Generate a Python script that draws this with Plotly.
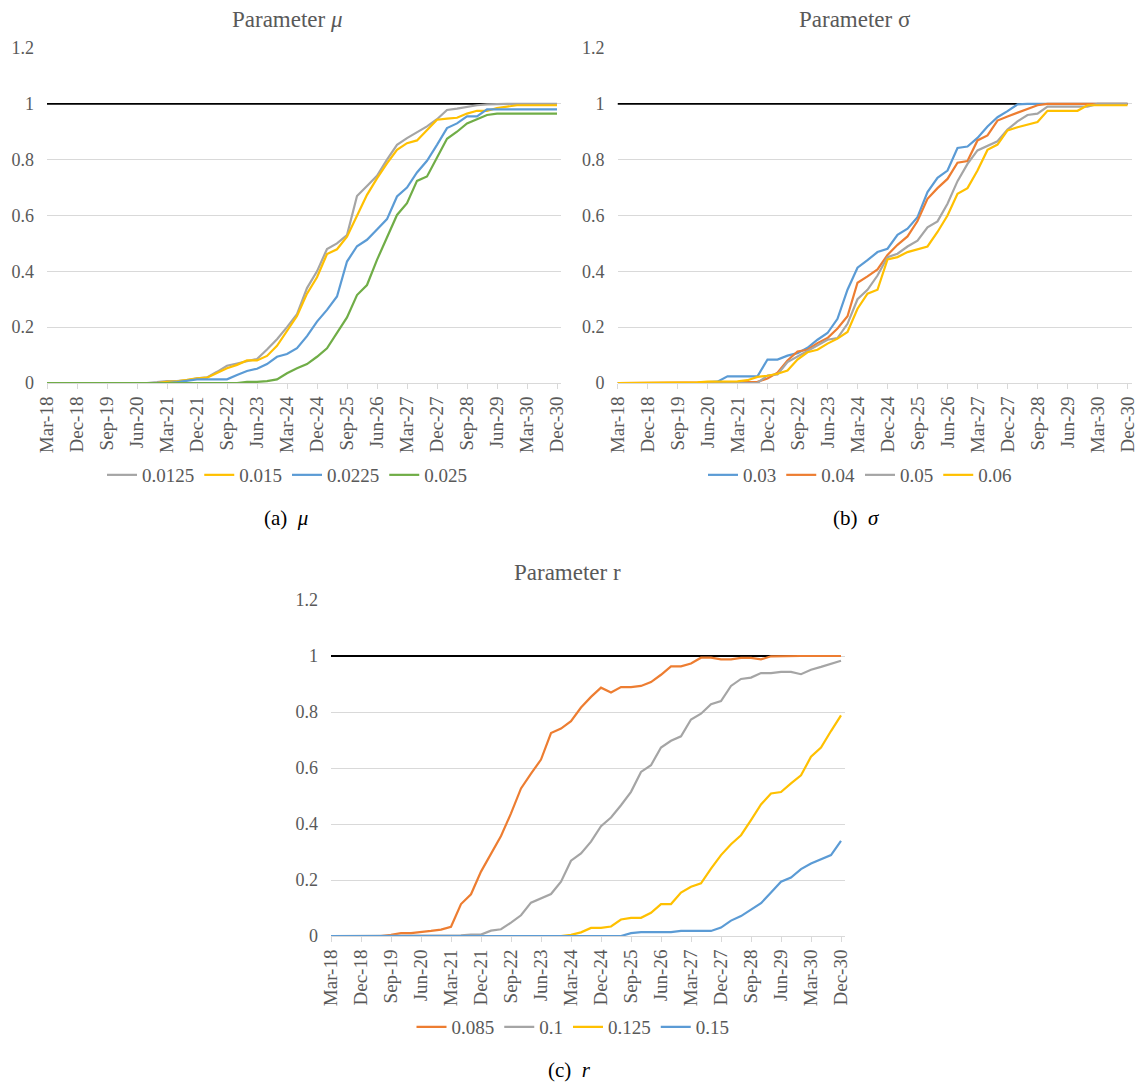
import plotly.graph_objects as go

# ---------------- data ----------------
QUARTERS = [
    "Mar-18", "Jun-18", "Sep-18", "Dec-18",
    "Mar-19", "Jun-19", "Sep-19", "Dec-19",
    "Mar-20", "Jun-20", "Sep-20", "Dec-20",
    "Mar-21", "Jun-21", "Sep-21", "Dec-21",
    "Mar-22", "Jun-22", "Sep-22", "Dec-22",
    "Mar-23", "Jun-23", "Sep-23", "Dec-23",
    "Mar-24", "Jun-24", "Sep-24", "Dec-24",
    "Mar-25", "Jun-25", "Sep-25", "Dec-25",
    "Mar-26", "Jun-26", "Sep-26", "Dec-26",
    "Mar-27", "Jun-27", "Sep-27", "Dec-27",
    "Mar-28", "Jun-28", "Sep-28", "Dec-28",
    "Mar-29", "Jun-29", "Sep-29", "Dec-29",
    "Mar-30", "Jun-30", "Sep-30", "Dec-30",
]
TICK_LABELS = [
    "Mar-18", "Dec-18", "Sep-19", "Jun-20", "Mar-21", "Dec-21",
    "Sep-22", "Jun-23", "Mar-24", "Dec-24", "Sep-25", "Jun-26",
    "Mar-27", "Dec-27", "Sep-28", "Jun-29", "Mar-30", "Dec-30",
]
Y_TICKS = [0, 0.2, 0.4, 0.6, 0.8, 1, 1.2]
TARGET_LEVEL = 1.0

# Panel (a): parameter mu
MU_LABELS = ["0.0125", "0.015", "0.0225", "0.025"]
MU_0125 = [0, 0, 0, 0, 0, 0, 0, 0, 0, 0, 0, 0.003, 0.007, 0.007, 0.01, 0.017,
           0.02, 0.04, 0.062, 0.07, 0.079, 0.086, 0.12, 0.157, 0.2, 0.247, 0.34,
           0.4, 0.48, 0.5, 0.53, 0.67, 0.706, 0.742, 0.8, 0.853, 0.877, 0.897,
           0.919, 0.945, 0.978, 0.983, 0.99, 0.995, 0.998, 1, 1, 1, 1, 1, 1, 1]
MU_015 = [0, 0, 0, 0, 0, 0, 0, 0, 0, 0, 0, 0, 0.004, 0.006, 0.011, 0.017,
          0.019, 0.035, 0.053, 0.065, 0.081, 0.081, 0.097, 0.133, 0.188, 0.24,
          0.32, 0.379, 0.462, 0.479, 0.524, 0.6, 0.674, 0.733, 0.787, 0.835,
          0.859, 0.869, 0.907, 0.943, 0.947, 0.95, 0.965, 0.975, 0.975, 0.985,
          0.99, 0.995, 0.995, 0.995, 0.995, 0.995]
MU_0225 = [0, 0, 0, 0, 0, 0, 0, 0, 0, 0, 0, 0, 0, 0.003, 0.008, 0.013, 0.013,
           0.013, 0.013, 0.029, 0.043, 0.051, 0.068, 0.094, 0.104, 0.125, 0.168,
           0.22, 0.262, 0.31, 0.435, 0.49, 0.513, 0.55, 0.587, 0.668, 0.7, 0.754,
           0.796, 0.853, 0.913, 0.93, 0.955, 0.955, 0.98, 0.98, 0.98, 0.98, 0.98,
           0.98, 0.98, 0.98]
MU_025 = [0, 0, 0, 0, 0, 0, 0, 0, 0, 0, 0, 0, 0, 0, 0, 0, 0, 0, 0, 0, 0.004,
          0.004, 0.007, 0.013, 0.035, 0.053, 0.068, 0.094, 0.124, 0.178, 0.235,
          0.315, 0.351, 0.441, 0.524, 0.602, 0.644, 0.724, 0.74, 0.81, 0.875,
          0.9, 0.93, 0.945, 0.96, 0.965, 0.965, 0.965, 0.965, 0.965, 0.965, 0.965]

# Panel (b): parameter sigma
SIGMA_LABELS = ["0.03", "0.04", "0.05", "0.06"]
SIGMA_03 = [0, 0, 0, 0, 0, 0, 0, 0, 0, 0.003, 0.005, 0.024, 0.024, 0.024, 0.024,
            0.084, 0.084, 0.098, 0.107, 0.126, 0.155, 0.179, 0.23, 0.334, 0.413,
            0.44, 0.469, 0.481, 0.531, 0.553, 0.594, 0.684, 0.735, 0.761, 0.842,
            0.847, 0.878, 0.919, 0.952, 0.974, 0.998, 1, 1, 1, 1, 1, 1, 1, 1, 1,
            1, 1]
SIGMA_04 = [0, 0, 0, 0, 0, 0, 0, 0, 0, 0.002, 0.002, 0.003, 0.003, 0.003, 0.004,
            0.016, 0.037, 0.081, 0.113, 0.119, 0.143, 0.161, 0.195, 0.239, 0.359,
            0.382, 0.407, 0.459, 0.495, 0.525, 0.58, 0.66, 0.698, 0.731, 0.789,
            0.795, 0.869, 0.887, 0.94, 0.955, 0.968, 0.98, 0.995, 1, 1, 1, 1, 1,
            1, 1, 1, 1]
SIGMA_05 = [0, 0, 0, 0, 0, 0, 0, 0, 0, 0, 0, 0, 0, 0, 0, 0.027, 0.031, 0.075,
            0.095, 0.113, 0.135, 0.155, 0.161, 0.212, 0.3, 0.334, 0.385, 0.451,
            0.463, 0.489, 0.51, 0.558, 0.579, 0.642, 0.723, 0.785, 0.833, 0.851,
            0.866, 0.908, 0.937, 0.96, 0.965, 0.99, 0.99, 0.99, 0.99, 0.99, 1, 1,
            1, 1]
SIGMA_06 = [0, 0, 0, 0, 0, 0, 0, 0, 0.002, 0.005, 0.005, 0.006, 0.006, 0.01,
            0.022, 0.026, 0.033, 0.045, 0.084, 0.11, 0.119, 0.141, 0.159, 0.183,
            0.266, 0.32, 0.334, 0.443, 0.451, 0.469, 0.479, 0.489, 0.541, 0.6,
            0.678, 0.698, 0.761, 0.835, 0.854, 0.905, 0.916, 0.925, 0.935, 0.975,
            0.975, 0.975, 0.975, 0.995, 0.995, 0.995, 0.995, 0.995]

# Panel (c): parameter r
R_LABELS = ["0.085", "0.1", "0.125", "0.15"]
R_085 = [0, 0, 0, 0, 0, 0, 0.004, 0.01, 0.01, 0.013, 0.018, 0.023, 0.033, 0.114,
         0.149, 0.23, 0.295, 0.357, 0.438, 0.527, 0.58, 0.63, 0.725, 0.741,
         0.767, 0.816, 0.854, 0.887, 0.87, 0.889, 0.889, 0.893, 0.907, 0.933,
         0.963, 0.963, 0.973, 0.994, 0.994, 0.988, 0.988, 0.993, 0.993, 0.988,
         0.999, 1, 1, 1, 1, 1, 1, 1]
R_1 = [0, 0, 0, 0, 0, 0, 0, 0, 0, 0, 0, 0, 0, 0.002, 0.005, 0.005, 0.019, 0.024,
       0.048, 0.074, 0.119, 0.134, 0.15, 0.194, 0.269, 0.295, 0.337, 0.392,
       0.423, 0.467, 0.515, 0.586, 0.61, 0.673, 0.697, 0.713, 0.773, 0.794,
       0.828, 0.839, 0.893, 0.918, 0.923, 0.939, 0.939, 0.943, 0.943, 0.935,
       0.951, 0.961, 0.971, 0.983]
R_125 = [0, 0, 0, 0, 0, 0, 0, 0, 0, 0, 0, 0, 0, 0, 0, 0, 0, 0, 0, 0, 0, 0, 0, 0,
         0.004, 0.013, 0.029, 0.029, 0.034, 0.059, 0.065, 0.065, 0.083, 0.114,
         0.114, 0.155, 0.176, 0.188, 0.241, 0.289, 0.328, 0.36, 0.414, 0.47,
         0.509, 0.514, 0.545, 0.574, 0.64, 0.673, 0.732, 0.788]
R_15 = [0, 0, 0, 0, 0, 0, 0, 0, 0, 0, 0, 0, 0, 0, 0, 0, 0, 0, 0, 0, 0, 0, 0, 0,
        0, 0, 0, 0, 0, 0, 0.01, 0.014, 0.014, 0.014, 0.014, 0.018, 0.018, 0.018,
        0.018, 0.03, 0.055, 0.071, 0.095, 0.117, 0.155, 0.194, 0.209, 0.239,
        0.259, 0.275, 0.289, 0.34]

# ---------------- styling ----------------
BLUE, ORANGE, GRAY, YELLOW, GREEN = "#5B9BD5", "#ED7D31", "#A5A5A5", "#FFC000", "#70AD47"
TXT = "#595959"
GRID = "#D9D9D9"
FONT = "'Liberation Serif', 'Times New Roman', Times, 'DejaVu Serif', serif"
W, H = 1145, 1084


def px_x(v):
    return v / W


def px_y(v):
    return 1 - v / H


panels = [
    dict(ax="", legend="legend", series=[(MU_LABELS[0], MU_0125, GRAY), (MU_LABELS[1], MU_015, YELLOW),
                                          (MU_LABELS[2], MU_0225, BLUE), (MU_LABELS[3], MU_025, GREEN)],
         xpx=(47, 561), ypx=(383, 48), title="Parameter <i>μ</i>", tx=287, ty=19,
         lx=287, ly=475, cap="(a)  <i>μ</i>", cx=286, cy=518),
    dict(ax="2", legend="legend2", series=[(SIGMA_LABELS[0], SIGMA_03, BLUE), (SIGMA_LABELS[1], SIGMA_04, ORANGE),
                                           (SIGMA_LABELS[2], SIGMA_05, GRAY), (SIGMA_LABELS[3], SIGMA_06, YELLOW)],
         xpx=(617.5, 1131.5), ypx=(383, 48), title="Parameter σ", tx=855, ty=19,
         lx=860, ly=475, cap="(b)  <i>σ</i>", cx=856, cy=518),
    dict(ax="3", legend="legend3", series=[(R_LABELS[0], R_085, ORANGE), (R_LABELS[1], R_1, GRAY),
                                           (R_LABELS[2], R_125, YELLOW), (R_LABELS[3], R_15, BLUE)],
         xpx=(331, 845), ypx=(936, 600), title="Parameter r", tx=567, ty=572,
         lx=573, ly=1027, cap="(c)  <i>r</i>", cx=569, cy=1070),
]

fig = go.Figure()
annotations = []
layout = dict(
    width=W, height=H, margin=dict(l=0, r=0, t=0, b=0),
    paper_bgcolor="white", plot_bgcolor="white", template="none",
    font=dict(family=FONT, color=TXT, size=18),
)

for p in panels:
    xa, ya = "x" + p["ax"], "y" + p["ax"]
    # reference line at 1.0 (not in legend)
    fig.add_trace(go.Scatter(x=QUARTERS, y=[TARGET_LEVEL] * len(QUARTERS), mode="lines",
                             line=dict(color="black", width=1.8), showlegend=False,
                             xaxis=xa, yaxis=ya, hoverinfo="skip"))
    for name, vals, col in p["series"]:
        fig.add_trace(go.Scatter(x=QUARTERS, y=vals, mode="lines", name=name,
                                 line=dict(color=col, width=2.2), xaxis=xa, yaxis=ya,
                                 legend=p["legend"]))
    layout["xaxis" + p["ax"]] = dict(
        domain=[px_x(p["xpx"][0]), px_x(p["xpx"][1])], anchor=ya,
        type="category", range=[0, 51.4], tickmode="array",
        tickvals=TICK_LABELS, ticktext=TICK_LABELS, tickangle=-90,
        ticks="outside", ticklen=5, tickcolor=GRID, tickwidth=1,
        showline=True, linecolor=GRID, linewidth=1, showgrid=False, zeroline=False,
        tickfont=dict(family=FONT, size=19, color=TXT),
    )
    layout["yaxis" + p["ax"]] = dict(
        domain=[px_y(p["ypx"][0]), px_y(p["ypx"][1])], anchor=xa,
        range=[0, 1.2], tickmode="array", tickvals=Y_TICKS,
        ticktext=[f"{v:g}" for v in Y_TICKS],
        showgrid=True, gridcolor=GRID, gridwidth=1, zeroline=False, showline=False,
        ticks="", ticklabelstandoff=12,
        tickfont=dict(family=FONT, size=18, color=TXT),
    )
    layout[p["legend"]] = dict(
        orientation="h", xref="paper", yref="paper",
        x=px_x(p["lx"]), xanchor="center", y=px_y(p["ly"]), yanchor="middle",
        font=dict(family=FONT, size=19, color=TXT), bgcolor="rgba(0,0,0,0)",
        itemwidth=30, tracegroupgap=0,
    )
    annotations.append(dict(text=p["title"], x=px_x(p["tx"]), y=px_y(p["ty"]),
                            xref="paper", yref="paper", xanchor="center", yanchor="middle",
                            showarrow=False, font=dict(family=FONT, size=23, color=TXT)))
    annotations.append(dict(text=p["cap"], x=px_x(p["cx"]), y=px_y(p["cy"]),
                            xref="paper", yref="paper", xanchor="center", yanchor="middle",
                            showarrow=False, font=dict(family=FONT, size=21, color="black")))

layout["annotations"] = annotations
fig.update_layout(**layout)
fig.write_html(
    "out.html",
    config={"displayModeBar": False},
    post_script="document.body.style.margin='0px'; document.body.style.overflow='hidden';",
)
